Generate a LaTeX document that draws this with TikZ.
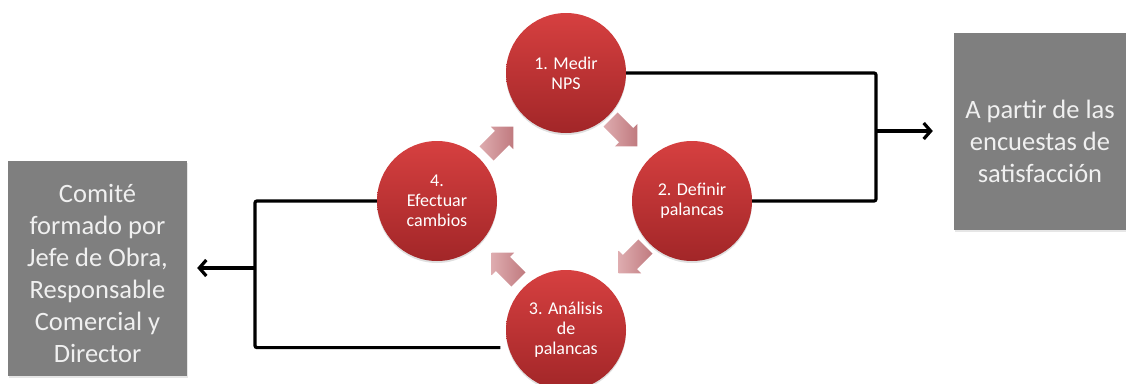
\documentclass[tikz,border=0pt]{standalone}
\usepackage{fontspec}
\setmainfont{Carlito}
\usepackage{tikz}
\usetikzlibrary{arrows.meta,positioning,shadows}
\usepackage{xcolor}
\definecolor{pasotop}{RGB}{214,64,64}
\definecolor{pasobot}{RGB}{162,38,40}
\definecolor{girolight}{RGB}{222,172,175}
\definecolor{girodark}{RGB}{192,122,127}
\definecolor{cajagray}{RGB}{127,127,127}
\definecolor{cajatext}{RGB}{240,240,240}
\tikzset{
  paso/.style  ={circle, minimum size=120pt, inner sep=0pt, draw=none,
                 top color=pasotop, bottom color=pasobot, align=center,
                 text=white, font=\fontsize{18}{20}\selectfont,
                 drop shadow={opacity=0.25, shadow xshift=0pt, shadow yshift=-2pt}},
  caja/.style  ={rectangle, fill=cajagray, inner sep=0pt,
                 drop shadow={opacity=0.2, shadow xshift=1pt, shadow yshift=-2pt}},
  cajatxt/.style={text=cajatext, align=center, font=\fontsize{26.5}{32}\selectfont},
  giro/.pic    ={\shade[left color=girolight, right color=girodark]
                   (-19,-10) -- (3,-10) -- (3,-16) -- (19,0) -- (3,16) -- (3,10)
                   -- (-19,10) -- cycle;},
  wire/.style  ={line width=3.2pt, draw=black, rounded corners=2pt},
  flow/.style  ={wire, -{Straight Barb[length=7pt, width=16pt]}},
}

\begin{document}
\begin{tikzpicture}[x=1pt, y=-1pt]
  \useasboundingbox (0,0) rectangle (1126,383);
  % ciclo de mejora
  \node[paso] (medir)    at (566,73)  {1. Medir\\NPS};
  \node[paso] (definir)  at (692,201) {2. Definir\\palancas};
  \node[paso] (analisis) at (566,330) {3. Análisis\\de\\palancas};
  \node[paso] (efectuar) at (437,201) {4.\\Efectuar\\cambios};
  \pic[rotate=-45]  (g12) at (624,133) {giro};
  \pic[rotate=-135] (g23) at (632,260) {giro};
  \pic[rotate=135]  (g34) at (505,266) {giro};
  \pic[rotate=45]   (g41) at (500,140) {giro};
  % cajas laterales
  \node[caja, minimum width=172pt, minimum height=197pt,
        label={[cajatxt, yshift=-10pt]center:A partir de las\\encuestas de\\satisfacción}]
        (encuesta) at (1040,131) {};
  \node[caja, minimum width=179pt, minimum height=215pt,
        label={[cajatxt, yshift=-5pt]center:Comité\\formado por\\Jefe de Obra,\\Responsable\\Comercial y\\Director}]
        (comite) at (97.5,268) {};
  % conexiones
  \coordinate (rj) at (876,131);
  \coordinate (lj) at (255,268);
  \draw[wire] (medir.east) -| (rj) |- (definir.east);
  \draw[flow, shorten >=21pt] (rj) -- (encuesta.west);
  \draw[wire, shorten >=8pt] (efectuar.west) -| (lj) |- (analisis.197);
  \draw[flow, shorten >=10pt] (lj) -- (comite.east);
\end{tikzpicture}
\end{document}
